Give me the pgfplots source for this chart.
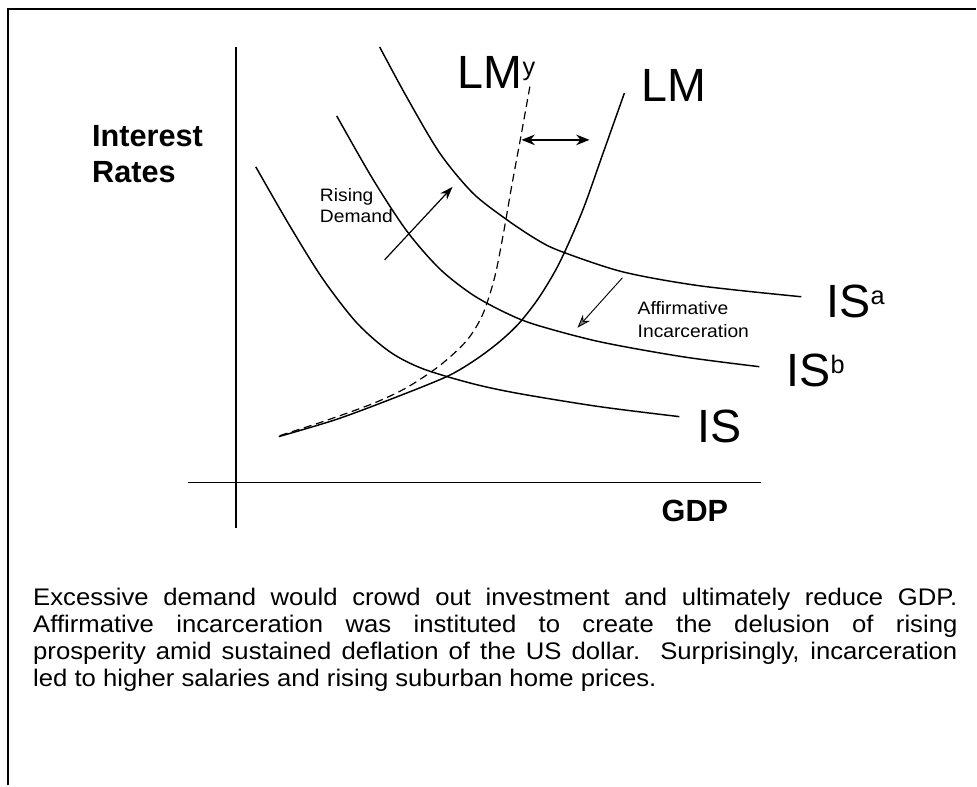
\documentclass[border=0pt]{standalone}
\usepackage{fontspec}
\setmainfont{Liberation Sans}
\newfontfamily\bodyfont[FakeStretch=1.07]{Liberation Sans}
\usepackage{pgfplots}
\pgfplotsset{compat=1.18}
\usetikzlibrary{arrows.meta}
\newcommand\supl[1]{\raisebox{10pt}{\fontsize{19}{19}\selectfont #1}}

\begin{document}
\begin{tikzpicture}
\begin{axis}[
  x=0.75pt, y=0.75pt,
  xmin=-48, xmax=526, ymin=-45, ymax=436,
  axis lines=middle,
  axis line style={-, line width=1.3pt},
  x axis line style={-}, y axis line style={-},
  xtick=\empty, ytick=\empty,
  clip=false,
]
% page extent and frame
\path (axis cs:-236,483) rectangle (axis cs:741,-303);
\draw[line width=1.3pt] (axis cs:-228,-303) -- (axis cs:-228,474) -- (axis cs:741,474);

% IS curves
\addplot[smooth, line width=1.1pt] coordinates {
 (20,316) (54,257) (87,204) (121,160) (154,131) (187,114) (237,99) (284,89) (364,76) (444,66)};
\addplot[smooth, line width=1.1pt] coordinates {
 (101,367) (137,304) (171,252) (204,214) (237,188) (270,170) (300,158) (364,141) (447,126) (524,116)};
\addplot[smooth, line width=1.1pt] coordinates {
 (144,436) (171,386) (204,330) (237,290) (270,264) (300,244) (324,232) (387,211) (464,197) (566,186)};

% LM curves
\addplot[smooth, line width=1.1pt] coordinates {
 (43,46) (100,63) (154,83) (211,106) (240,123) (264,141) (284,160) (304,186) (324,220) (347,272) (367,328) (389,390)};
\addplot[smooth, line width=0.9pt, dash pattern=on 6pt off 3.5pt] coordinates {
 (44,47) (90,62) (137,79) (171,95) (204,117) (231,142) (247,168) (259,205) (268,250) (276,296) (286,350) (295,400)};

% arrows
\addplot[line width=1pt, {Stealth[length=10pt,width=8pt]}-{Stealth[length=10pt,width=8pt]}] coordinates {(286,343) (354,343)};
\addplot[line width=0.9pt, -{Stealth[length=10pt,width=7pt]}] coordinates {(149,223) (217,296)};
\addplot[line width=0.7pt, -{Stealth[length=10pt,width=7pt,fill=gray]}] coordinates {(387,205) (342,155)};

% labels
\node[anchor=base west, inner sep=0, font=\bfseries\fontsize{23}{23}\selectfont] at (axis cs:-144,336) {Interest};
\node[anchor=base west, inner sep=0, font=\bfseries\fontsize{23}{23}\selectfont] at (axis cs:-144,300) {Rates};
\node[anchor=base west, inner sep=0, font=\bfseries\fontsize{23}{23}\selectfont] at (axis cs:426,-39) {GDP};

\node[anchor=base west, inner sep=0, font=\fontsize{35}{35}\selectfont] at (axis cs:222,394) {LM\supl{y}};
\node[anchor=base west, inner sep=0, font=\fontsize{35}{35}\selectfont] at (axis cs:406,381) {LM};
\node[anchor=base west, inner sep=0, font=\fontsize{35}{35}\selectfont] at (axis cs:591,165) {IS\supl{a}};
\node[anchor=base west, inner sep=0, font=\fontsize{35}{35}\selectfont] at (axis cs:551,96) {IS\supl{b}};
\node[anchor=base west, inner sep=0, font=\fontsize{35}{35}\selectfont] at (axis cs:462,40) {IS};

\node[anchor=base west, inner sep=0, font=\bodyfont\fontsize{13.5}{13.5}\selectfont] at (axis cs:84,281) {Rising};
\node[anchor=base west, inner sep=0, font=\bodyfont\fontsize{13.5}{13.5}\selectfont] at (axis cs:84,260) {Demand};
\node[anchor=base west, inner sep=0, font=\bodyfont\fontsize{13.5}{13.5}\selectfont] at (axis cs:402,168) {Affirmative};
\node[anchor=base west, inner sep=0, font=\bodyfont\fontsize{13.5}{13.5}\selectfont] at (axis cs:402,145) {Incarceration};

\node[anchor=base west, inner sep=0, text width=693.75pt, align=justify,
      font=\bodyfont\fontsize{18}{20.25}\selectfont] at (axis cs:-203,-123)
 {Excessive demand would crowd out investment and ultimately reduce GDP.\linebreak
  Affirmative incarceration was instituted to create the delusion of rising\linebreak
  prosperity amid sustained deflation of the US dollar.\ \ Surprisingly, incarceration\linebreak
  led to higher salaries and rising suburban home prices.};
\end{axis}
\end{tikzpicture}
\end{document}
